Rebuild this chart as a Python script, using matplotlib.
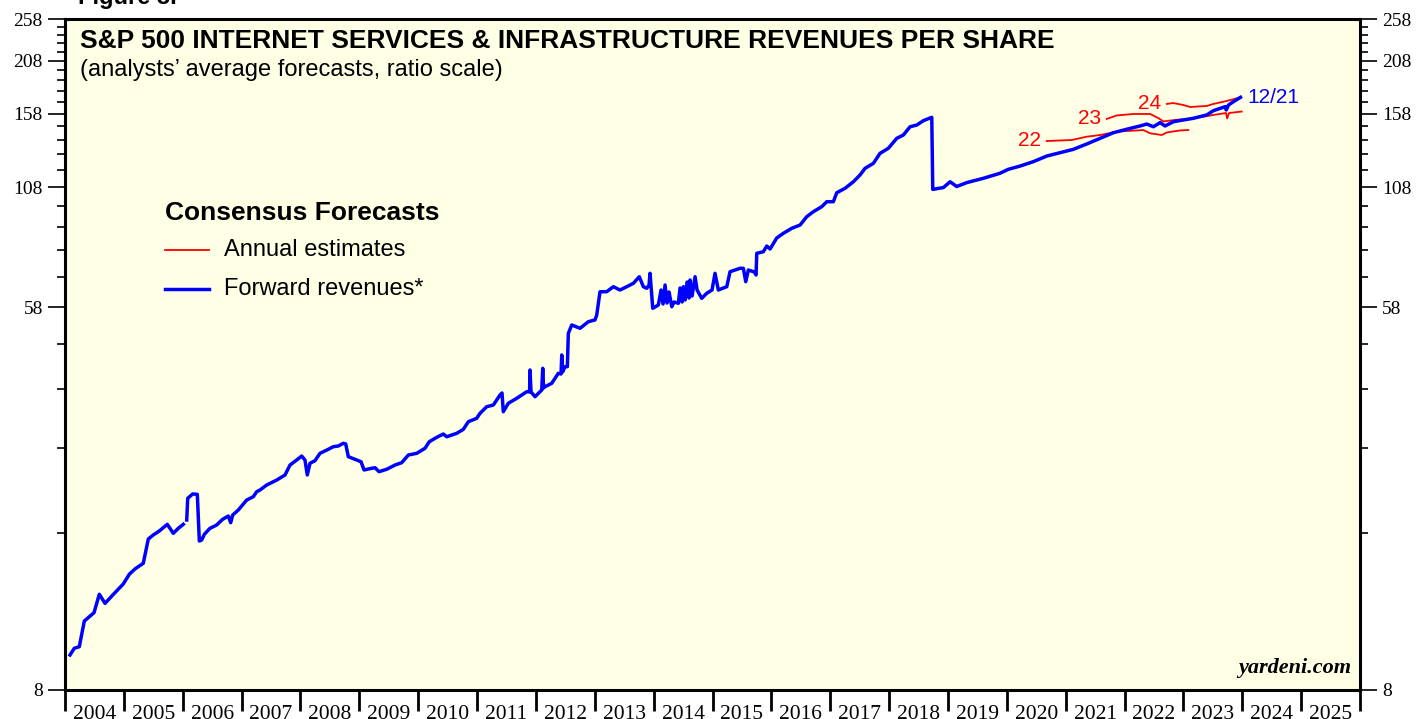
import numpy as np
import matplotlib
matplotlib.use("Agg")
import matplotlib.pyplot as plt
from matplotlib.ticker import FixedLocator, NullFormatter, FixedFormatter

# ---------------- data ----------------
fwd_years_a = [2004.085, 2004.158, 2004.243, 2004.328, 2004.493, 2004.583, 2004.680, 2004.849,
               2004.990, 2005.092, 2005.189, 2005.330, 2005.415, 2005.500, 2005.602, 2005.738,
               2005.840, 2005.925, 2006.010]
fwd_vals_a = [9.59, 9.93, 10.01, 11.43, 11.94, 13.13, 12.53, 13.24,
              13.85, 14.56, 14.97, 15.42, 17.48, 17.85, 18.22, 18.86,
              18.00, 18.48, 18.86]

fwd_years_b = [2006.068, 2006.085, 2006.170, 2006.248, 2006.282, 2006.322, 2006.367, 2006.463,
               2006.520, 2006.577, 2006.679, 2006.774, 2006.815, 2006.849, 2006.944, 2007.087,
               2007.199, 2007.257, 2007.313, 2007.427, 2007.597, 2007.738, 2007.823, 2007.936,
               2008.021, 2008.077, 2008.116, 2008.162, 2008.247, 2008.332, 2008.473, 2008.558,
               2008.643, 2008.728, 2008.769, 2008.813, 2008.956, 2009.029, 2009.080, 2009.211,
               2009.267, 2009.335, 2009.465, 2009.607, 2009.720, 2009.833, 2009.975, 2010.116,
               2010.189, 2010.315, 2010.427, 2010.485, 2010.655, 2010.767, 2010.852, 2010.994,
               2011.051, 2011.164, 2011.277, 2011.390, 2011.424, 2011.446, 2011.531, 2011.674,
               2011.844, 2011.892, 2011.900, 2011.917, 2011.985, 2012.099, 2012.116, 2012.130,
               2012.155, 2012.269, 2012.381, 2012.427, 2012.439, 2012.452, 2012.495, 2012.534,
               2012.551, 2012.609, 2012.750, 2012.891, 2013.004, 2013.033, 2013.089, 2013.203,
               2013.315, 2013.429, 2013.543, 2013.655, 2013.757, 2013.825, 2013.883, 2013.922,
               2013.939, 2013.985, 2014.080, 2014.126, 2014.160, 2014.194, 2014.228, 2014.262,
               2014.308, 2014.347, 2014.420, 2014.449, 2014.483, 2014.505, 2014.534, 2014.568,
               2014.602, 2014.619, 2014.653, 2014.704, 2014.738, 2014.817, 2014.902, 2014.992,
               2015.043, 2015.099, 2015.242, 2015.298, 2015.468, 2015.524, 2015.565, 2015.609,
               2015.711, 2015.740, 2015.752, 2015.864, 2015.922, 2015.978, 2016.091, 2016.204,
               2016.346, 2016.488, 2016.601, 2016.713, 2016.856, 2016.941, 2017.053, 2017.111,
               2017.252, 2017.393, 2017.507, 2017.592, 2017.733, 2017.846, 2017.987, 2018.130,
               2018.242, 2018.356, 2018.470, 2018.582, 2018.725, 2018.742, 2018.922, 2019.036,
               2019.149, 2019.319, 2019.601, 2019.885, 2020.026, 2020.225, 2020.451, 2020.678,
               2020.904, 2021.130, 2021.358, 2021.584, 2021.810, 2022.038, 2022.264, 2022.378,
               2022.490, 2022.604, 2022.689, 2022.830, 2023.000, 2023.169, 2023.397, 2023.509,
               2023.625, 2023.710, 2023.727, 2023.766, 2023.851, 2023.970]
fwd_vals_b = [19.29, 21.58, 22.07, 22.03, 17.30, 17.39, 17.91, 18.48,
              18.63, 18.80, 19.36, 19.69, 19.02, 19.79, 20.31, 21.39,
              21.76, 22.33, 22.53, 23.12, 23.72, 24.35, 25.64, 26.31,
              26.86, 26.31, 24.35, 25.87, 26.22, 27.24, 27.81, 28.19,
              28.29, 28.69, 28.59, 26.77, 26.31, 26.08, 24.99, 25.21,
              25.28, 24.77, 25.08, 25.64, 25.95, 27.00, 27.24, 27.96,
              28.93, 29.59, 30.10, 29.68, 30.21, 30.84, 32.08, 32.65,
              33.51, 34.67, 34.98, 36.84, 37.22, 33.79, 35.29, 36.21,
              37.47, 37.43, 41.93, 37.43, 36.52, 37.80, 42.30, 38.20,
              38.46, 39.14, 41.22, 41.07, 45.32, 41.50, 42.65, 42.65,
              50.70, 52.93, 52.03, 53.84, 54.33, 55.73, 62.88, 62.88,
              64.53, 63.44, 64.53, 65.67, 67.96, 64.53, 64.00, 65.10,
              69.17, 57.70, 58.70, 63.44, 59.00, 65.10, 59.31, 62.79,
              58.18, 59.62, 59.22, 64.10, 59.62, 64.53, 60.24, 66.12,
              60.86, 66.81, 61.50, 67.96, 63.44, 60.77, 62.37, 63.44,
              69.17, 63.44, 64.53, 69.74, 70.98, 70.98, 66.22, 70.36,
              69.63, 68.56, 76.71, 77.35, 79.66, 78.44, 83.03, 85.08,
              87.31, 88.81, 92.71, 95.14, 97.65, 100.2, 100.2, 104.98,
              107.4, 111.1, 115.1, 119.1, 122.2, 128.7, 132.1, 139.1,
              141.5, 147.7, 149.0, 152.4, 155.1, 106.8, 107.8, 111.1,
              108.4, 110.6, 113.1, 116.1, 118.5, 120.5, 123.3, 126.9,
              129.1, 131.4, 135.1, 139.1, 143.2, 145.8, 148.3, 149.8,
              147.7, 150.9, 148.3, 151.6, 153.0, 154.3, 157.0, 160.5,
              162.5, 163.9, 161.1, 165.3, 168.2, 172.0]

est22_years = [2020.678, 2021.103, 2021.358, 2021.584, 2021.868, 2022.320, 2022.434,
               2022.633, 2022.717, 2022.943, 2023.084]
est22_vals = [137.2, 137.9, 140.3, 141.5, 144.0, 145.2, 142.8, 141.5, 143.4, 144.9, 145.2]

est23_years = [2021.697, 2021.868, 2022.150, 2022.434, 2022.570, 2022.660, 2022.859,
               2023.169, 2023.509, 2023.725, 2023.742, 2023.776, 2023.990]
est23_vals = [153.8, 156.6, 157.8, 157.8, 154.6, 151.8, 153.0, 154.2, 157.0, 158.6,
              154.2, 158.6, 159.8]

est24_years = [2022.717, 2022.824, 2023.000, 2023.113, 2023.397, 2023.509, 2023.736, 2023.962]
est24_vals = [166.2, 167.0, 165.3, 163.6, 164.5, 166.2, 168.8, 171.9]

year_labels = [str(y) for y in range(2004, 2026)]
y_major = [8, 58, 108, 158, 208, 258]
y_minor = list(range(18, 258, 10))

# ---------------- figure ----------------
W, H = 1416, 719
fig = plt.figure(figsize=(W / 100, H / 100), dpi=100)
fig.patch.set_facecolor("white")
L, R, B, T = 65, 1360, 690, 19
ax = fig.add_axes([L / W, 1 - B / H, (R - L) / W, (B - T) / H])
ax.set_facecolor("#FFFFE5")

blue = "#0000FF"
red = "#FF0000"
ax.plot(fwd_years_a, fwd_vals_a, color=blue, lw=2.5, solid_joinstyle="round", zorder=4)
ax.plot(fwd_years_b, fwd_vals_b, color=blue, lw=2.5, solid_joinstyle="round", zorder=4)
for yrs, vals in [(est22_years, est22_vals), (est23_years, est23_vals), (est24_years, est24_vals)]:
    ax.plot(yrs, vals, color=red, lw=1.3, zorder=3)

ax.set_yscale("log")
ax.set_ylim(8, 258)
ax.set_xlim(2004, 2026)

serif = "Liberation Serif"
sans = "Liberation Sans"

# y ticks both sides
ax.yaxis.set_major_locator(FixedLocator(y_major))
ax.yaxis.set_major_formatter(FixedFormatter([str(v) for v in y_major]))
ax.yaxis.set_minor_locator(FixedLocator([v for v in y_minor if v not in y_major]))
ax.yaxis.set_minor_formatter(NullFormatter())
ax.tick_params(axis="y", which="major", direction="out", length=12, width=1.2, pad=4,
               labelsize=14, left=True, right=True, labelleft=True, labelright=True)
ax.tick_params(axis="y", which="minor", direction="out", length=6, width=1.2,
               left=True, right=True)

# x ticks: boundaries as major (no labels), labels at mid-year
ax.xaxis.set_major_locator(FixedLocator(list(range(2004, 2027))))
ax.xaxis.set_major_formatter(NullFormatter())
ax.xaxis.set_minor_locator(FixedLocator([y + 0.5 for y in range(2004, 2026)]))
ax.xaxis.set_minor_formatter(FixedFormatter(year_labels))
ax.tick_params(axis="x", which="major", direction="out", length=15, width=2.0)
ax.tick_params(axis="x", which="minor", length=0, pad=11, labelsize=15.5)

for lab in ax.get_xticklabels(minor=True):
    lab.set_fontfamily(serif)
for t in ax.yaxis.get_major_ticks():
    t.label1.set_fontfamily(serif)
    t.label2.set_fontfamily(serif)

for s in ax.spines.values():
    s.set_linewidth(2.2)
    s.set_color("black")

fig.text(80 / W, 1 - 41 / H, "S&P 500 INTERNET SERVICES & INFRASTRUCTURE REVENUES PER SHARE",
         fontsize=19, fontweight="bold", family=sans, va="center", ha="left")
fig.text(80 / W, 1 - 70 / H, "(analysts\u2019 average forecasts, ratio scale)",
         fontsize=17, family=sans, va="center", ha="left")
fig.text(78 / W, 1 - 4 / H, "Figure 3.", fontsize=17, fontweight="bold", family=sans,
         va="baseline", ha="left")

# legend
fig.text(165 / W, 1 - 213 / H, "Consensus Forecasts", fontsize=19, fontweight="bold",
         family=sans, va="center", ha="left")
fig.lines.append(plt.Line2D([165 / W, 209 / W], [1 - 250 / H, 1 - 250 / H], color=red, lw=1.3,
                            transform=fig.transFigure))
fig.text(224 / W, 1 - 250 / H, "Annual estimates", fontsize=17, family=sans, va="center", ha="left")
fig.lines.append(plt.Line2D([165 / W, 209 / W], [1 - 289 / H, 1 - 289 / H], color=blue, lw=2.5,
                            transform=fig.transFigure))
fig.text(224 / W, 1 - 289 / H, "Forward revenues*", fontsize=17, family=sans, va="center", ha="left")

# series labels
ax.text(est22_years[0] - 0.1, est22_vals[0], "22", color=red, fontsize=15, family=sans,
        ha="right", va="center")
ax.text(est23_years[0] - 0.1, est23_vals[0], "23", color=red, fontsize=15, family=sans,
        ha="right", va="center")
ax.text(est24_years[0] - 0.1, est24_vals[0], "24", color=red, fontsize=15, family=sans,
        ha="right", va="center")
ax.text(fwd_years_b[-1] + 0.12, fwd_vals_b[-1], "12/21", color=blue, fontsize=15, family=sans,
        ha="left", va="center")

ax.text(0.993, 0.018, "yardeni.com", transform=ax.transAxes, fontsize=16, fontweight="bold",
        style="italic", family=serif, ha="right", va="bottom")

fig.savefig("out.png", dpi=100)
